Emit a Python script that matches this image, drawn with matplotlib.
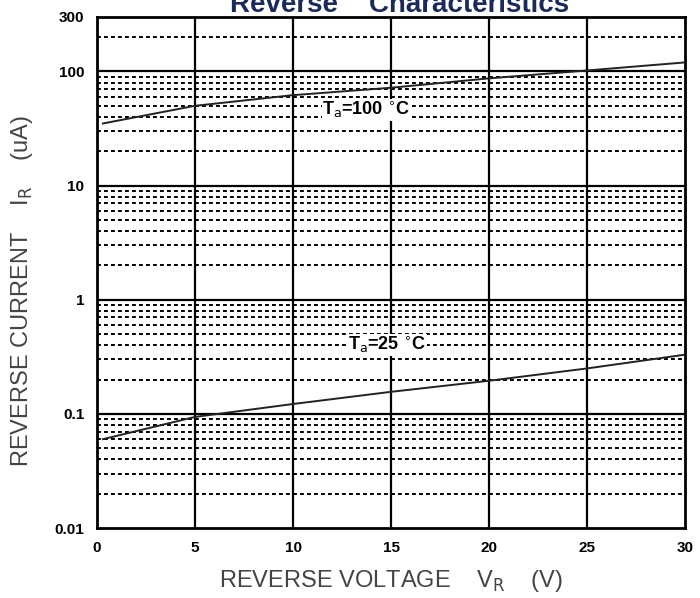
import matplotlib
matplotlib.use("Agg")
import matplotlib.pyplot as plt
import numpy as np

# Data
v_100 = [0.3, 5, 10, 15, 20, 25, 30]
i_100 = [35, 50, 62, 72, 87, 102, 120]
v_25 = [0.3, 5, 10, 15, 20, 25, 30]
i_25 = [0.06, 0.094, 0.122, 0.156, 0.195, 0.25, 0.33]
x_ticks = [0, 5, 10, 15, 20, 25, 30]
y_ticks = [0.01, 0.1, 1, 10, 100, 300]
y_ticklabels = ["0.01", "0.1", "1", "10", "100", "300"]

plt.rcParams['font.family'] = ['Liberation Sans', 'DejaVu Sans']

fig = plt.figure(figsize=(7.0, 5.98), dpi=100)
ax = fig.add_axes([97/700, 1-528/598, (685-97)/700, (528-17)/598])
ax.set_yscale('log')
ax.set_xlim(0, 30)
ax.set_ylim(0.01, 300)

# grid
for x in x_ticks[1:-1]:
    ax.axvline(x, color='black', lw=1.6, zorder=2)
for y in [0.1, 1, 10, 100]:
    ax.axhline(y, color='black', lw=1.6, zorder=2)
for dec in [0.01, 0.1, 1, 10, 100]:
    for m in range(2, 10):
        yv = dec * m
        if yv < 300:
            ax.axhline(yv, color='black', lw=1.4, ls=(0, (2.0, 1.6)), zorder=1)

ax.plot(v_100, i_100, color='#222222', lw=1.4, zorder=3)
ax.plot(v_25, i_25, color='#222222', lw=1.4, zorder=3)

ax.text(11.5, 46, r"T$_{\rm a}$=100 $^{\circ}$C", fontsize=13, fontweight='bold',
        ha='left', va='center', zorder=4,
        bbox=dict(facecolor='white', edgecolor='none', pad=0.5))
ax.text(12.8, 0.40, r"T$_{\rm a}$=25 $^{\circ}$C", fontsize=13, fontweight='bold',
        ha='left', va='center', zorder=4,
        bbox=dict(facecolor='white', edgecolor='none', pad=0.5))

for s in ax.spines.values():
    s.set_linewidth(2.0)

ax.set_xticks(x_ticks)
ax.set_xticklabels([str(t) for t in x_ticks], fontsize=11, fontweight='bold')
ax.set_yticks(y_ticks)
ax.set_yticklabels(y_ticklabels, fontsize=11, fontweight='bold')
ax.yaxis.set_minor_locator(matplotlib.ticker.NullLocator())
ax.tick_params(axis='both', length=0, pad=9)

ax.set_xlabel(r"REVERSE VOLTAGE    V$_{\rm R}$    (V)", fontsize=17, color='#444444', labelpad=10)
ax.set_ylabel(r"REVERSE CURRENT    I$_{\rm R}$    (uA)", fontsize=17, color='#444444')
ax.yaxis.set_label_coords(-(97 - 35) / 588, 0.464)

fig.text(0.571, 1 - 12/598, "Reverse    Characteristics", fontsize=20, fontweight='bold',
         color='#1a2a5a', ha='center', va='baseline')

fig.savefig("out.png", dpi=100)
